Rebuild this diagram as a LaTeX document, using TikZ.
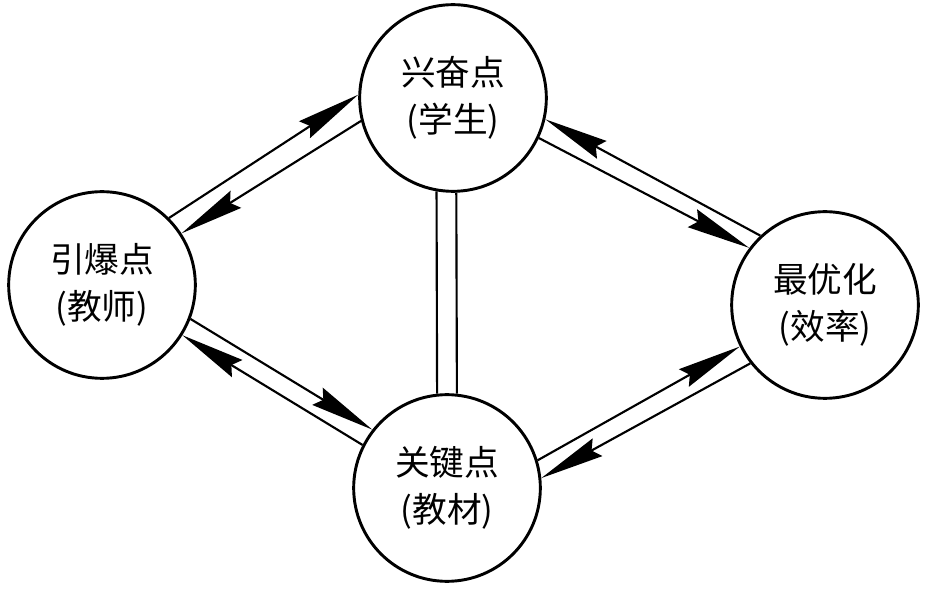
\documentclass[tikz,border=0pt]{standalone}
\usepackage{fontspec}
\setmainfont{Noto Sans CJK SC}
\usetikzlibrary{arrows.meta}

\begin{document}
\begin{tikzpicture}[x=0.75pt, y=-0.75pt,
    point/.style={draw, circle, line width=2.2pt, minimum size=140pt, inner sep=0pt,
      align=center, font=\fontsize{26}{35}\selectfont},
    flow/.style={-{Stealth[length=48pt, width=15pt, inset=5pt]}, line width=1.6pt}]
    \useasboundingbox (0,0) rectangle (925,591);

    % Points
    \node[point] (xingfen) at (453,98) {兴奋点\\(学生)};
    \node[point] (yinbao) at (102,285) {引爆点\\(教师)};
    \node[point] (youhua) at (825,305) {最优化\\(效率)};
    \node[point] (guanjian) at (447,488) {关键点\\(教材)};

    % Left - top
    \draw[flow] (yinbao.45) -- (xingfen.178);
    \draw[flow] (xingfen.194) -- (yinbao.33);

    % Top - right
    \draw[flow] (youhua.133) -- (xingfen.-13);
    \draw[flow] (xingfen.-25) -- (youhua.143);

    % Left - bottom
    \draw[flow] (yinbao.-21) -- (guanjian.142);
    \draw[flow] (guanjian.153) -- (yinbao.-32);

    % Bottom - right
    \draw[flow] (guanjian.17) -- (youhua.206);
    \draw[flow] (youhua.218) -- (guanjian.6);

    % Top - bottom
    \draw[line width=1.6pt] (xingfen.260) -- (guanjian.96);
    \draw[line width=1.6pt] (xingfen.272) -- (guanjian.84);
\end{tikzpicture}
\end{document}
